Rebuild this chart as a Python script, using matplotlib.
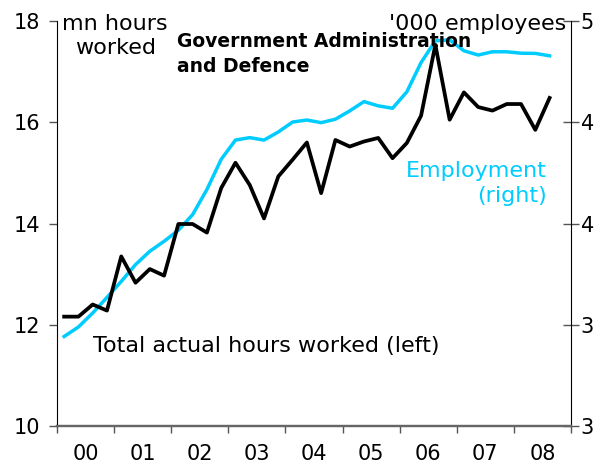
import matplotlib
matplotlib.use("Agg")
import matplotlib.pyplot as plt
import numpy as np

years = ["00", "01", "02", "03", "04", "05", "06", "07", "08"]
hours = [12.16, 12.16, 12.40, 12.28,
         13.35, 12.83, 13.10, 12.97,
         13.99, 13.99, 13.82, 14.70,
         15.20, 14.76, 14.10, 14.93,
         15.26, 15.60, 14.60, 15.65,
         15.52, 15.62, 15.69, 15.29,
         15.59, 16.13, 17.53, 16.05,
         16.59, 16.30, 16.23, 16.36,
         16.36, 15.85, 16.48]
employment = [344.2, 348.9, 355.8, 363.5,
              371.4, 379.7, 386.3, 391.2,
              396.7, 404.4, 416.8, 431.7,
              441.2, 442.4, 441.2, 445.2,
              450.1, 451.1, 449.8, 451.5,
              455.6, 460.2, 458.1, 456.9,
              465.0, 479.5, 490.2, 490.7,
              485.3, 483.2, 484.8, 484.8,
              484.1, 484.0, 482.8]
left_ticks = [10, 12, 14, 16, 18]
right_ticks = [300, 350, 400, 450, 500]

plt.rcParams['font.family'] = ['DejaVu Sans']
fs_tick = 15
fs = 16

fig = plt.figure(figsize=(5.94, 4.67), dpi=100)
ax = fig.add_axes([57/594, 41/467, (571-57)/594, (426-21)/467])
ax2 = ax.twinx()

x = np.arange(len(hours))
ax.plot(x, hours, color='black', lw=2.7, zorder=3)
ax2.plot(x, employment, color='#00CCFF', lw=2.5, zorder=2)
ax.set_zorder(ax2.get_zorder() + 1)
ax.patch.set_visible(False)

nq = 4 * len(years)
ax.set_xlim(-0.5, nq - 0.5)
ax.set_ylim(10, 18)
ax2.set_ylim(300, 500)

ax.set_xticks(np.arange(-0.5, nq, 4))
ax.set_xticklabels([])
ax.set_xticks(np.arange(1.5, nq, 4), minor=True)
ax.set_xticklabels(years, minor=True, fontsize=fs_tick)
ax.tick_params(axis='x', which='major', length=5, width=1, color='#555555', direction='out')
ax.tick_params(axis='x', which='minor', length=0, pad=13)

ax.set_yticks(left_ticks)
ax.set_yticklabels([str(t) for t in left_ticks], fontsize=fs_tick)
ax.tick_params(axis='y', length=6, width=1, color='#555555', direction='out', pad=6)

ax2.set_yticks(right_ticks)
ax2.set_yticklabels([str(t) for t in right_ticks], fontsize=fs_tick)
ax2.tick_params(axis='y', length=12, width=1, color='#555555', direction='inout', pad=1)

for a in (ax, ax2):
    a.spines['top'].set_visible(False)
    a.spines['left'].set_color('black')
    a.spines['right'].set_color('black')
    a.spines['bottom'].set_color('#666666')
    a.spines['bottom'].set_linewidth(1.6)
ax2.spines['left'].set_visible(False)
ax.spines['right'].set_visible(False)

ax.text(0.113, 1.018, "mn hours\nworked", transform=ax.transAxes, ha='center', va='top',
        fontsize=fs, linespacing=1.25)
ax.text(0.233, 0.972, "Government Administration\nand Defence", transform=ax.transAxes,
        ha='left', va='top', fontsize=13.5, fontweight='bold', linespacing=1.4)
ax.text(0.99, 1.018, "'000 employees", transform=ax.transAxes, ha='right', va='top',
        fontsize=fs)
ax.text(0.953, 0.655, "Employment\n(right)", transform=ax.transAxes, ha='right', va='top',
        color='#00CCFF', fontsize=fs, multialignment='right', linespacing=1.3)
ax.text(0.07, 0.223, "Total actual hours worked (left)", transform=ax.transAxes,
        ha='left', va='top', fontsize=fs)

fig.savefig("out.png", dpi=100)
